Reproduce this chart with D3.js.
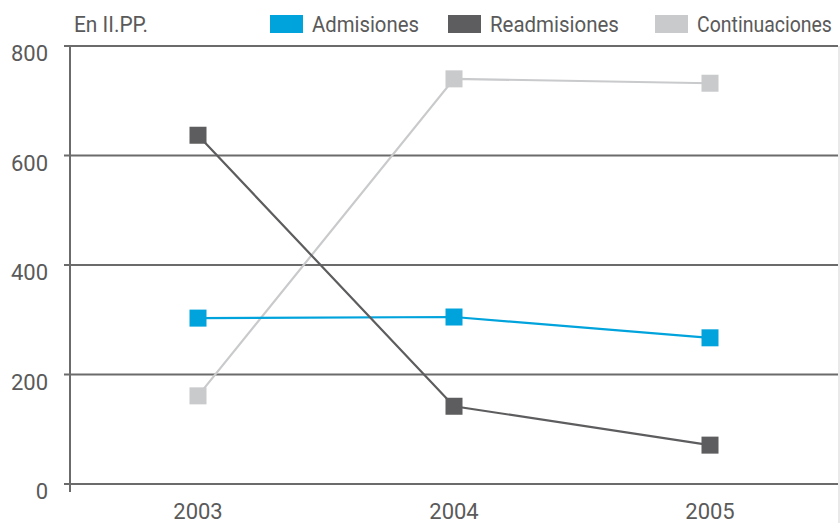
<!DOCTYPE html>
<html><head><meta charset="utf-8">
<script src="https://d3js.org/d3.v7.min.js"></script>
<style>
body{margin:0;background:#fff;}
text{font-family:"Roboto","Liberation Sans",sans-serif;fill:#5a5a5a;}
</style></head><body>
<svg id="c" width="840" height="523"></svg>
<script>
const years = ["2003","2004","2005"];
const admisiones = [303, 305, 267];
const readmisiones = [637, 142, 71];
const continuaciones = [161, 740, 732];
const seriesNames = ["Admisiones","Readmisiones","Continuaciones"];
const seriesColors = ["#00a3dc","#5d5d5f","#c9cacc"];
const yTicks = [0,200,400,600,800];
const unitLabel = "En II.PP.";

const svg = d3.select("#c");
const x = d3.scaleBand().domain(years).range([70,838]);
const y = d3.scaleLinear().domain([0,800]).range([484,46]);

function condensed(tx, ty, str, w){
  const t = svg.append("text").attr("font-size",22).text(str);
  const nat = t.node().getComputedTextLength();
  const s = Math.min(1, w/nat);
  t.attr("transform",`translate(${tx},${ty}) scale(${s},1)`);
  return t;
}

// right border
svg.append("line").attr("x1",839).attr("x2",839).attr("y1",46).attr("y2",523)
  .attr("stroke","#e2e2e2").attr("stroke-width",1.5);

// gridlines
svg.selectAll(".g").data(yTicks).enter().append("line")
  .attr("x1",64).attr("x2",838).attr("y1",d=>y(d)).attr("y2",d=>y(d))
  .attr("stroke","#6b6b6b").attr("stroke-width",2);
// y axis line
svg.append("line").attr("x1",70).attr("x2",70).attr("y1",y(800)-1).attr("y2",y(0)+8)
  .attr("stroke","#6b6b6b").attr("stroke-width",2);

// y labels
svg.selectAll(".yl").data(yTicks).enter().append("text")
  .attr("x",48).attr("y",d=>y(d)+15).attr("text-anchor","end")
  .attr("font-size",22).text(d=>d);
// x labels
svg.selectAll(".xl").data(years).enter().append("text")
  .attr("x",d=>x(d)+x.bandwidth()/2).attr("y",519).attr("text-anchor","middle")
  .attr("font-size",22).text(d=>d);

condensed(74,32,unitLabel,74);

const data = [admisiones, readmisiones, continuaciones];
const cx = d=>x(d)+x.bandwidth()/2;
const line = d3.line().x((d,i)=>cx(years[i])).y(d=>y(d));
[2,0,1].forEach(k=>{
  svg.append("path").datum(data[k]).attr("d",line).attr("fill","none")
    .attr("stroke",seriesColors[k]).attr("stroke-width",2.2);
});
[2,0,1].forEach(k=>{
  svg.selectAll(".m"+k).data(data[k]).enter().append("rect")
    .attr("x",(d,i)=>cx(years[i])-8.5).attr("y",d=>y(d)-8.5)
    .attr("width",17).attr("height",17).attr("fill",seriesColors[k]);
});

// legend
const legX = [270,448,655];
const legW = [107,129,135];
seriesNames.forEach((n,k)=>{
  svg.append("rect").attr("x",legX[k]).attr("y",15).attr("width",33).attr("height",18).attr("fill",seriesColors[k]);
  condensed(legX[k]+42,32,n,legW[k]);
});
</script></body></html>
